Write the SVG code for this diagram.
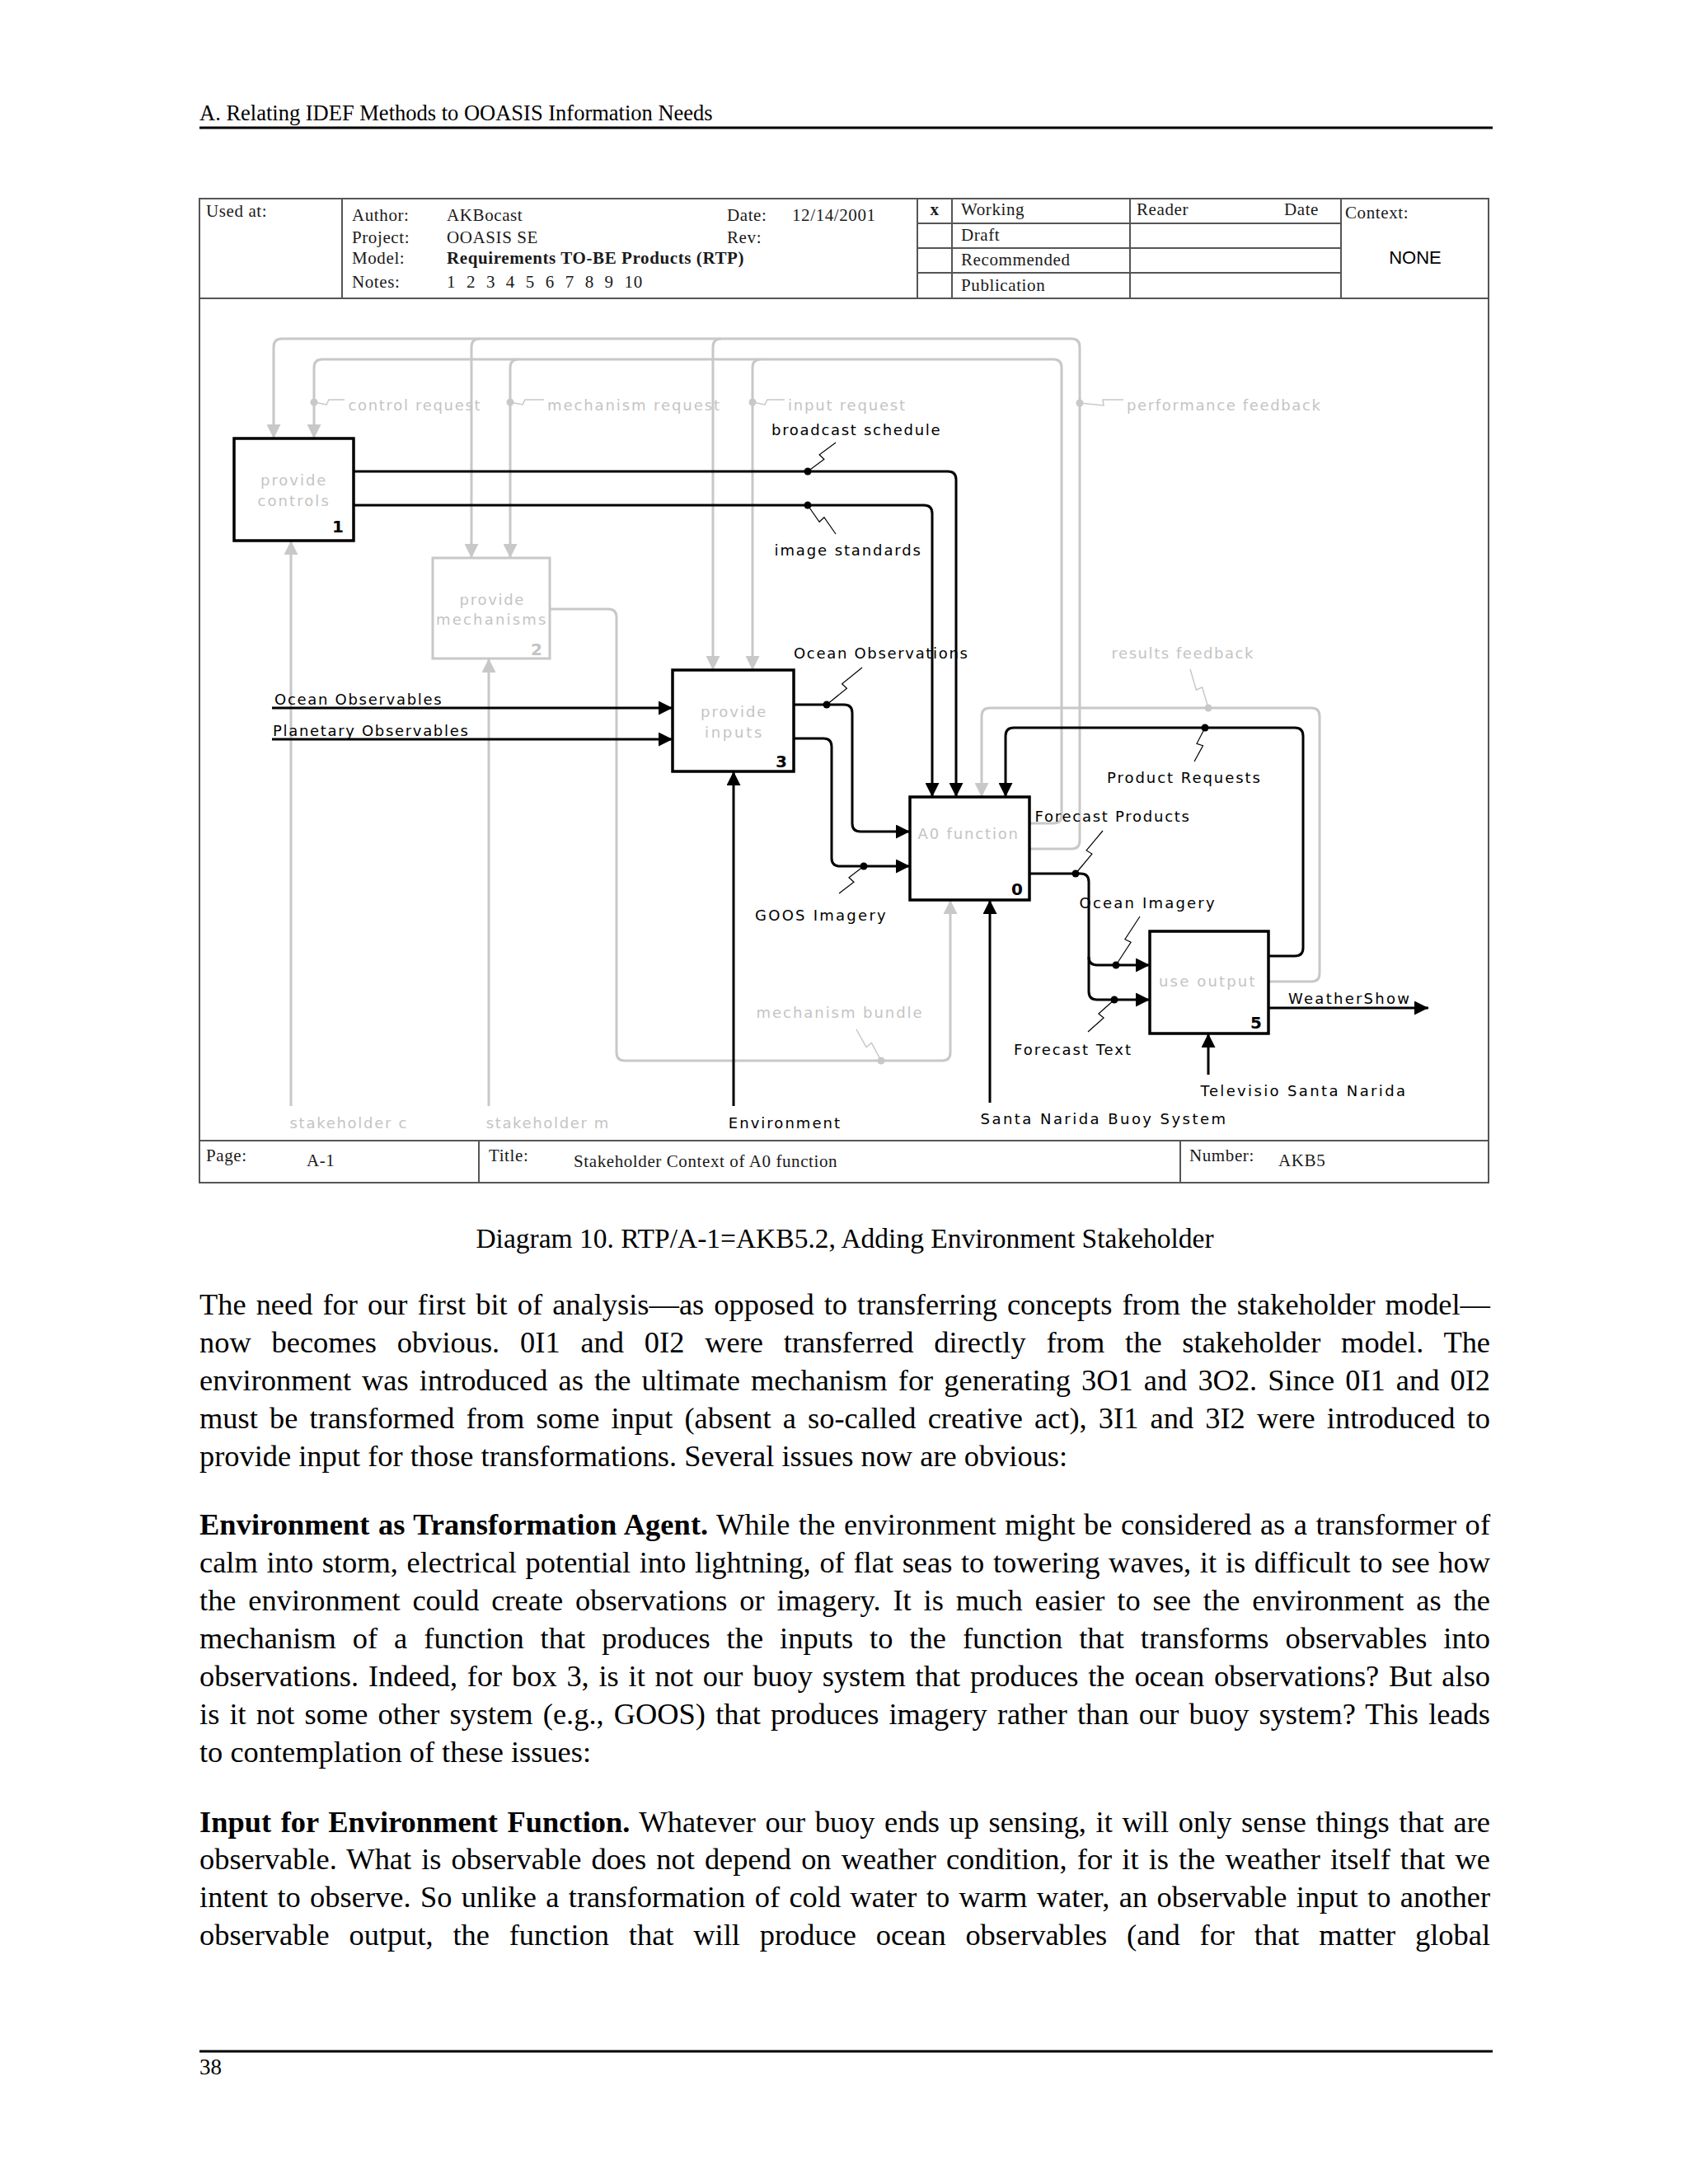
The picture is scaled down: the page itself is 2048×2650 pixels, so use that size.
<svg xmlns="http://www.w3.org/2000/svg" width="2048" height="2650" viewBox="0 0 2048 2650">
<style>
.pg{font-family:"Liberation Serif","Times New Roman",serif;fill:#000}
.hdr{font-family:"Liberation Serif","Times New Roman",serif;font-size:21px;letter-spacing:0.6px;fill:#1a1a1a}
.lbl{font-family:"DejaVu Sans",Verdana,sans-serif;font-size:18px;fill:#000}
.glbl{font-family:"DejaVu Sans",Verdana,sans-serif;font-size:18px;fill:#c4c4c4}
.num{font-family:"DejaVu Sans",Verdana,sans-serif;font-size:20px;font-weight:bold;fill:#000}
.gnum{font-family:"DejaVu Sans",Verdana,sans-serif;font-size:20px;font-weight:bold;fill:#c4c4c4}
.frm{fill:none;stroke:#555;stroke-width:2}
.box{fill:#fff;stroke:#000;stroke-width:3.5}
.gbox{fill:#fff;stroke:#c8c8c8;stroke-width:3}
.blk{fill:none;stroke:#000;stroke-width:3}
.gry{fill:none;stroke:#c8c8c8;stroke-width:3}
.sq{fill:none;stroke:#000;stroke-width:1.2}
.gsq{fill:none;stroke:#c8c8c8;stroke-width:1.5}
.body{font-family:"Liberation Serif","Times New Roman",serif;font-size:36.4px;fill:#000}
</style>
<defs>
<marker id="ab" viewBox="0 0 17 17" refX="17" refY="8.5" markerWidth="17" markerHeight="17" markerUnits="userSpaceOnUse" orient="auto"><path d="M0,0 L17,8.5 L0,17 Z" fill="#000"/></marker>
<marker id="ag" viewBox="0 0 17 17" refX="17" refY="8.5" markerWidth="17" markerHeight="17" markerUnits="userSpaceOnUse" orient="auto"><path d="M0,0 L17,8.5 L0,17 Z" fill="#c8c8c8"/></marker>
</defs>
<rect width="2048" height="2650" fill="#fff"/>

<!-- page header -->
<text class="pg" x="242" y="146" font-size="26.5">A. Relating IDEF Methods to OOASIS Information Needs</text>
<line x1="242" y1="155" x2="1811" y2="155" stroke="#000" stroke-width="3"/>

<!-- IDEF frame -->
<g id="frame">
<rect class="frm" x="242" y="241" width="1564" height="1194"/>
<line class="frm" x1="242" y1="362" x2="1806" y2="362"/>
<line class="frm" x1="415" y1="241" x2="415" y2="362"/>
<line class="frm" x1="1113" y1="241" x2="1113" y2="362"/>
<line class="frm" x1="1155" y1="241" x2="1155" y2="362"/>
<line class="frm" x1="1371" y1="241" x2="1371" y2="362"/>
<line class="frm" x1="1627" y1="241" x2="1627" y2="362"/>
<line class="frm" x1="1113" y1="271" x2="1627" y2="271"/>
<line class="frm" x1="1113" y1="301" x2="1627" y2="301"/>
<line class="frm" x1="1113" y1="331" x2="1627" y2="331"/>
<line class="frm" x1="242" y1="1384" x2="1806" y2="1384"/>
<line class="frm" x1="581" y1="1384" x2="581" y2="1435"/>
<line class="frm" x1="1432" y1="1384" x2="1432" y2="1435"/>
<text class="hdr" x="250" y="263">Used at:</text>
<text class="hdr" x="427" y="268">Author:</text>
<text class="hdr" x="542" y="268">AKBocast</text>
<text class="hdr" x="882" y="268">Date:</text>
<text class="hdr" x="961" y="268">12/14/2001</text>
<text class="hdr" x="427" y="295">Project:</text>
<text class="hdr" x="542" y="295">OOASIS SE</text>
<text class="hdr" x="882" y="295">Rev:</text>
<text class="hdr" x="427" y="320">Model:</text>
<text class="hdr" x="542" y="320" font-weight="bold">Requirements TO-BE Products (RTP)</text>
<text class="hdr" x="427" y="349">Notes:</text>
<text class="hdr" x="542" y="349" word-spacing="7">1 2 3 4 5 6 7 8 9 10</text>
<text class="hdr" x="1134" y="261" font-weight="bold" text-anchor="middle">x</text>
<text class="hdr" x="1166" y="261">Working</text>
<text class="hdr" x="1166" y="292">Draft</text>
<text class="hdr" x="1166" y="322">Recommended</text>
<text class="hdr" x="1166" y="353">Publication</text>
<text class="hdr" x="1379" y="261">Reader</text>
<text class="hdr" x="1558" y="261">Date</text>
<text class="hdr" x="1632" y="265">Context:</text>
<text x="1717" y="320" font-family="Liberation Sans,Arial,sans-serif" font-size="22" text-anchor="middle" fill="#000">NONE</text>
<text class="hdr" x="250" y="1409">Page:</text>
<text class="hdr" x="372" y="1415">A-1</text>
<text class="hdr" x="593" y="1409">Title:</text>
<text class="hdr" x="696" y="1416">Stakeholder Context of A0 function</text>
<text class="hdr" x="1443" y="1409">Number:</text>
<text class="hdr" x="1551" y="1415">AKB5</text>
</g>

<!-- connectors -->
<g id="connectors">
<path class="gry" d="M1249,1030 H1300 Q1310,1030 1310,1020 V421 Q1310,411 1300,411 H342 Q332,411 332,421 V532" marker-end="url(#ag)"/>
<path class="gry" d="M582,411 Q572,411 572,421 V677" marker-end="url(#ag)"/>
<path class="gry" d="M875,411 Q865,411 865,421 V813" marker-end="url(#ag)"/>
<path class="gry" d="M1249,999 H1278 Q1288,999 1288,989 V446 Q1288,436 1278,436 H391 Q381,436 381,446 V532" marker-end="url(#ag)"/>
<path class="gry" d="M629,436 Q619,436 619,446 V677" marker-end="url(#ag)"/>
<path class="gry" d="M923,436 Q913,436 913,446 V813" marker-end="url(#ag)"/>
<path class="gry" d="M667,739 H738 Q748,739 748,749 V1277 Q748,1287 758,1287 H1143 Q1153,1287 1153,1277 V1092" marker-end="url(#ag)"/>
<path class="gry" d="M1539,1191 H1591 Q1601,1191 1601,1181 V869 Q1601,859 1591,859 H1201 Q1191,859 1191,869 V967" marker-end="url(#ag)"/>
<path class="gry" d="M353,1342 V656" marker-end="url(#ag)"/>
<path class="gry" d="M593,1342 V799" marker-end="url(#ag)"/>
<path class="blk" d="M429,572 H1150 Q1160,572 1160,582 V967" marker-end="url(#ab)"/>
<path class="blk" d="M429,613 H1121 Q1131,613 1131,623 V967" marker-end="url(#ab)"/>
<path class="blk" d="M330,859 H816" marker-end="url(#ab)"/>
<path class="blk" d="M330,897 H816" marker-end="url(#ab)"/>
<path class="blk" d="M890,1342 V936" marker-end="url(#ab)"/>
<path class="blk" d="M963,855 H1024 Q1034,855 1034,865 V999 Q1034,1009 1044,1009 H1104" marker-end="url(#ab)"/>
<path class="blk" d="M963,896 H999 Q1009,896 1009,906 V1041 Q1009,1051 1019,1051 H1104" marker-end="url(#ab)"/>
<path class="blk" d="M1201,1338 V1092" marker-end="url(#ab)"/>
<path class="blk" d="M1539,1160 H1571 Q1581,1160 1581,1150 V893 Q1581,883 1571,883 H1230 Q1220,883 1220,893 V967" marker-end="url(#ab)"/>
<path class="blk" d="M1249,1060 H1311 Q1321,1060 1321,1070 V1203 Q1321,1213 1331,1213 H1395" marker-end="url(#ab)"/>
<path class="blk" d="M1321,1161 Q1321,1171 1331,1171 H1395" marker-end="url(#ab)"/>
<path class="blk" d="M1466,1304 V1254" marker-end="url(#ab)"/>
<path class="blk" d="M1539,1223 H1733" marker-end="url(#ab)"/>
<g fill="#000">
<circle cx="980" cy="572" r="4.5"/><circle cx="980" cy="613" r="4.5"/>
<circle cx="1003" cy="855" r="4.5"/><circle cx="1048" cy="1051" r="4.5"/>
<circle cx="1462" cy="883" r="4.5"/><circle cx="1305" cy="1060" r="4.5"/>
<circle cx="1354" cy="1171" r="4.5"/><circle cx="1352" cy="1213" r="4.5"/>
</g>
<g fill="#c8c8c8">
<circle cx="381" cy="488" r="4.5"/><circle cx="619" cy="488" r="4.5"/>
<circle cx="913" cy="488" r="4.5"/><circle cx="1310" cy="489" r="4.5"/>
<circle cx="1466" cy="859" r="4.5"/><circle cx="1069" cy="1287" r="4.5"/>
</g>
<path class="sq" d="M980,572 L999.9,557.3 L994.1,551.7 L1014,537"/>
<path class="sq" d="M980,613 L994.1,633.3 L999.9,627.7 L1014,648"/>
<path class="sq" d="M1003,855 L1027.4,835.3 L1021.6,829.7 L1046,810"/>
<path class="sq" d="M1048,1051 L1030,1064.8 L1036,1070.2 L1018,1084"/>
<path class="sq" d="M1462,883 L1452,902.3 L1459.5,904.8 L1449,924"/>
<path class="sq" d="M1305,1060 L1324.9,1036.1 L1318.1,1031.9 L1338,1008"/>
<path class="sq" d="M1354,1171 L1372.1,1143.3 L1364.9,1139.7 L1383,1112"/>
<path class="sq" d="M1352,1213 L1332.9,1230 L1339.1,1235 L1320,1252"/>
<path class="gsq" d="M1466,859 L1458.6,833.8 L1451.4,837.2 L1444,812"/>
<path class="gsq" d="M1069,1287 L1057.4,1265.5 L1051.1,1270.5 L1039,1249"/>
<path class="gsq" d="M381,488 L396,491 L399,485 L418,485"/>
<path class="gsq" d="M619,488 L634,491 L637,485 L660,485"/>
<path class="gsq" d="M913,488 L928,491 L931,485 L952,485"/>
<path class="gsq" d="M1310,489 L1339,492 L1338,485 L1363,485"/>
</g>

<!-- connector labels -->
<g id="labels">
<text class="glbl" x="422.5" y="498" textLength="160">control request</text>
<text class="glbl" x="664" y="498" textLength="209">mechanism request</text>
<text class="glbl" x="956" y="498" textLength="142">input request</text>
<text class="glbl" x="1367" y="498" textLength="235">performance feedback</text>
<text class="glbl" x="1348.5" y="799" textLength="172">results feedback</text>
<text class="glbl" x="917.6" y="1235" textLength="201">mechanism bundle</text>
<text class="glbl" x="351.5" y="1369" textLength="142">stakeholder c</text>
<text class="glbl" x="589.7" y="1369" textLength="148.7">stakeholder m</text>
<text class="lbl" x="936" y="528" textLength="204.6">broadcast schedule</text>
<text class="lbl" x="939.5" y="673.5" textLength="177.5">image standards</text>
<text class="lbl" x="963" y="798.5" textLength="211">Ocean Observations</text>
<text class="lbl" x="333" y="854.5" textLength="202.7">Ocean Observables</text>
<text class="lbl" x="331" y="892.5" textLength="236.8">Planetary Observables</text>
<text class="lbl" x="1343" y="950" textLength="186">Product Requests</text>
<text class="lbl" x="1255.5" y="996.5" textLength="187.5">Forecast Products</text>
<text class="lbl" x="1309.6" y="1102" textLength="164">Ocean Imagery</text>
<text class="lbl" x="916" y="1117" textLength="158.7">GOOS Imagery</text>
<text class="lbl" x="1563" y="1218" textLength="147">WeatherShow</text>
<text class="lbl" x="1230" y="1280" textLength="142">Forecast Text</text>
<text class="lbl" x="1456.6" y="1330" textLength="248.4">Televisio Santa Narida</text>
<text class="lbl" x="883.8" y="1369" textLength="135.2">Environment</text>
<text class="lbl" x="1189.6" y="1364" textLength="297.4">Santa Narida Buoy System</text>
</g>

<!-- nodes -->
<g id="node1">
<rect class="box" x="284" y="532" width="145" height="124"/>
<text class="glbl" x="316" y="589" textLength="79.4">provide</text>
<text class="glbl" x="312.6" y="614" textLength="86.2">controls</text>
<text class="num" x="417" y="646" text-anchor="end">1</text>
</g>
<g id="node2">
<rect class="gbox" x="525" y="677" width="142" height="122"/>
<text class="glbl" x="557.6" y="734" textLength="77.8">provide</text>
<text class="glbl" x="529" y="758" textLength="133.4">mechanisms</text>
<text class="gnum" x="658" y="795" text-anchor="end">2</text>
</g>
<g id="node3">
<rect class="box" x="816" y="813" width="147" height="123"/>
<text class="glbl" x="850" y="869.5" textLength="79.4">provide</text>
<text class="glbl" x="855" y="895" textLength="69.3">inputs</text>
<text class="num" x="955" y="931" text-anchor="end">3</text>
</g>
<g id="node0">
<rect class="box" x="1104" y="967" width="145" height="125"/>
<text class="glbl" x="1113.6" y="1018" textLength="121.4">A0 function</text>
<text class="num" x="1241" y="1086" text-anchor="end">0</text>
</g>
<g id="node5">
<rect class="box" x="1395" y="1130" width="144" height="124"/>
<text class="glbl" x="1406" y="1197" textLength="116.5">use output</text>
<text class="num" x="1531" y="1248" text-anchor="end">5</text>
</g>

<!-- caption and body -->
<text class="pg" x="1025" y="1514" font-size="33.5" text-anchor="middle">Diagram 10. RTP/A-1=AKB5.2, Adding Environment Stakeholder</text>
<g class="body">
<text x="242" y="1595" word-spacing="2.97" textLength="1566">The need for our first bit of analysis—as opposed to transferring concepts from the stakeholder model—</text>
<text x="242" y="1641" word-spacing="15.7" textLength="1566">now becomes obvious. 0I1 and 0I2 were transferred directly from the stakeholder model. The</text>
<text x="242" y="1687" word-spacing="3.98" textLength="1566">environment was introduced as the ultimate mechanism for generating 3O1 and 3O2. Since 0I1 and 0I2</text>
<text x="242" y="1733" word-spacing="5.06" textLength="1566">must be transformed from some input (absent a so-called creative act), 3I1 and 3I2 were introduced to</text>
<text x="242" y="1779">provide input for those transformations. Several issues now are obvious:</text>
<text x="242" y="1862" word-spacing="1.32" textLength="1566"><tspan font-weight="bold">Environment as Transformation Agent.</tspan> While the environment might be considered as a transformer of</text>
<text x="242" y="1908" word-spacing="1.57" textLength="1566">calm into storm, electrical potential into lightning, of flat seas to towering waves, it is difficult to see how</text>
<text x="242" y="1954" word-spacing="5.69" textLength="1566">the environment could create observations or imagery. It is much easier to see the environment as the</text>
<text x="242" y="2000" word-spacing="10.9" textLength="1566">mechanism of a function that produces the inputs to the function that transforms observables into</text>
<text x="242" y="2046" word-spacing="2.68" textLength="1566">observations. Indeed, for box 3, is it not our buoy system that produces the ocean observations? But also</text>
<text x="242" y="2092" word-spacing="3.03" textLength="1566">is it not some other system (e.g., GOOS) that produces imagery rather than our buoy system? This leads</text>
<text x="242" y="2138">to contemplation of these issues:</text>
<text x="242" y="2223" word-spacing="2.46" textLength="1566"><tspan font-weight="bold">Input for Environment Function.</tspan> Whatever our buoy ends up sensing, it will only sense things that are</text>
<text x="242" y="2268" word-spacing="2.98" textLength="1566">observable. What is observable does not depend on weather condition, for it is the weather itself that we</text>
<text x="242" y="2314" word-spacing="2.26" textLength="1566">intent to observe. So unlike a transformation of cold water to warm water, an observable input to another</text>
<text x="242" y="2360" word-spacing="14.7" textLength="1566">observable output, the function that will produce ocean observables (and for that matter global</text>
</g>
<line x1="242" y1="2489" x2="1811" y2="2489" stroke="#000" stroke-width="3"/>
<text class="pg" x="242" y="2517" font-size="27">38</text>
</svg>
